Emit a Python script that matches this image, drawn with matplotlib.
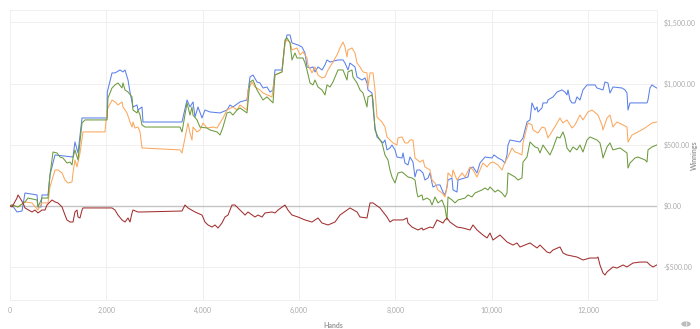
import matplotlib
matplotlib.use("Agg")
import matplotlib.pyplot as plt
from matplotlib.ticker import FuncFormatter
from matplotlib.patches import Circle

plt.rcParams['font.family'] = ['Lato', 'DejaVu Sans']

blue_x = [0, 42, 145, 249, 311, 561, 581, 644, 664, 789, 830, 934, 1308, 1349, 1412, 1495, 2014, 2020, 2118, 2180,
          2284, 2346, 2387, 2450, 2491, 2553, 2637, 2657, 2740, 2761, 3425, 3571, 3675, 3737, 3799, 3841, 3903, 3986,
          4048, 4152, 4360, 4505, 4567, 4629, 4775, 4920, 4982, 5045, 5128, 5190, 5252, 5335, 5398, 5460, 5501, 5647,
          5709, 5751, 5813, 5854, 5979, 6062, 6124, 6166, 6228, 6290, 6332, 6394, 6477, 6539, 6581, 6643, 6809, 6913,
          6955, 7017, 7058, 7162, 7204, 7308, 7370, 7411, 7432, 7515, 7536, 7577, 7619, 7681, 7743, 7785, 7827, 7889,
          7930, 7993, 8034, 8138, 8159, 8200, 8262, 8304, 8366, 8408, 8449, 8512, 8574, 8615, 8678, 8719, 8761, 8781,
          8865, 8927, 8989, 9031, 9072, 9093, 9176, 9197, 9280, 9300, 9446, 9508, 9550, 9612, 9695, 9757, 9861, 10006,
          10048, 10131, 10214, 10276, 10318, 10338, 10380, 10588, 10650, 10733, 10795, 10837, 10899, 10941, 10961,
          11044, 11065, 11148, 11169, 11273, 11356, 11460, 11522, 11563, 11584, 11626, 11667, 11729, 11771, 11833,
          11895, 11979, 12145, 12186, 12311, 12352, 12414, 12456, 12518, 12705, 12767, 12809, 12830, 12871, 13120,
          13224, 13245, 13286, 13328, 13390, 13425]
blue_y = [0, 8, -49, -41, 106, 90, -8, -8, 90, 90, 253, 417, 400, 523, 433, 719, 719, 931, 1087, 1087,
          1111, 1095, 1111, 1029, 931, 809, 825, 784, 809, 686, 686, 686, 866, 809, 850, 727, 809, 719,
          784, 768, 760, 784, 825, 809, 850, 866, 1054, 1070, 1013, 1005, 964, 972, 931, 948, 1111, 1111,
          1332, 1397, 1397, 1332, 1315, 1299, 1250, 1136, 1127, 1136, 1095, 1136, 1111, 1152, 1193, 1176, 1193, 1193,
          1168, 1111, 1168, 1136, 1054, 1029, 1046, 1005, 948, 923, 809, 645, 564, 539, 515, 539, 458, 474,
          498, 458, 400, 392, 433, 351, 335, 400, 359, 237, 294, 294, 270, 212, 229, 270, 188, 155,
          172, 172, 114, 90, 155, 212, 229, 131, 114, 212, 229, 237, 310, 319, 270, 351, 400, 392,
          417, 392, 376, 351, 417, 498, 539, 523, 556, 686, 703, 842, 784, 809, 768,
          801, 842, 842, 866, 891, 931, 948, 931, 907, 948, 866, 842, 842, 891, 866,
          948, 989, 989, 964, 948, 1013, 1005, 923, 972, 964, 948, 923, 784, 842, 842,
          842, 866, 964, 989, 972, 964]

orange_x = [0, 42, 166, 311, 457, 581, 664, 789, 830, 872, 934, 996, 1080, 1142, 1204, 1287, 1308, 1349, 1391, 1412,
            1453, 1515, 1972, 2014, 2034, 2118, 2180, 2242, 2325, 2346, 2429, 2491, 2533, 2553, 2595, 2657, 2699, 2740,
            3529, 3571, 3591, 3675, 3695, 3737, 3778, 3799, 3882, 3944, 4007, 4090, 4214, 4297, 4360, 4422, 4505, 4629,
            4713, 4775, 4920, 4941, 5024, 5086, 5190, 5252, 5439, 5501, 5647, 5709, 5751, 5813, 5854, 5958, 6020, 6083,
            6166, 6186, 6270, 6332, 6394, 6477, 6539, 6602, 6705, 6788, 6851, 6913, 6955, 6996, 7017, 7100, 7162, 7204,
            7266, 7328, 7411, 7432, 7474, 7536, 7577, 7619, 7723, 7785, 7827, 7951, 8034, 8055, 8138, 8200, 8262, 8304,
            8366, 8408, 8512, 8574, 8615, 8719, 8761, 8823, 8885, 8968, 9031, 9072, 9093, 9176, 9197, 9280, 9384, 9446,
            9550, 9612, 9695, 9757, 9819, 9903, 9965, 10027, 10131, 10214, 10276, 10338, 10422, 10484, 10546, 10629,
            10650, 10733, 10754, 10837, 10858, 10961, 11044, 11107, 11169, 11273, 11356, 11418, 11480, 11563, 11667,
            11729, 11833, 11895, 11999, 12082, 12207, 12290, 12311, 12394, 12456, 12518, 12601, 12726, 12809, 12830,
            12913, 13037, 13183, 13328, 13425]
orange_y = [0, 8, -8, 33, 25, -33, 25, 25, 155, 212, 294, 294, 270, 212, 188, 196, 270, 376, 319, 359,
            433, 605, 605, 784, 801, 866, 850, 825, 850, 809, 760, 686, 645, 686, 637, 645, 605, 474,
            458, 433, 474, 637, 678, 596, 539, 645, 605, 621, 678, 637, 645, 637, 678, 719, 784, 809,
            784, 825, 784, 948, 1013, 972, 948, 923, 891, 1070, 1095, 1332, 1356, 1340, 1275, 1291, 1234, 1258,
            1209, 1152, 1087, 1136, 1070, 1046, 1054, 1111, 1176, 1234, 1291, 1340, 1299, 1217, 1275, 1291, 1250, 1168,
            1136, 1095, 1087, 972, 1087, 1087, 948, 727, 686, 645, 564, 515, 498, 556, 564, 515, 515, 539,
            539, 392, 359, 376, 319, 294, 212, 188, 131, 106, 74, 155, 270, 237, 294, 212, 270, 237,
            319, 294, 237, 294, 351, 319, 351, 359, 335, 294, 359, 400, 474, 441, 433, 417,
            515, 645, 678, 662, 621, 596, 645, 637, 556, 621, 678, 719, 678, 703, 637,
            662, 743, 703, 768, 784, 743, 662, 621, 719, 743, 645, 686, 662, 645, 523,
            580, 605, 637, 678, 686]

green_x = [0, 42, 166, 311, 374, 561, 581, 664, 789, 830, 893, 976, 1038, 1100, 1183, 1246, 1287, 1308, 1349, 1412,
           1495, 1557, 2014, 2034, 2118, 2180, 2242, 2325, 2346, 2387, 2450, 2533, 2553, 2637, 2657, 2699, 2740, 2803,
           3529, 3571, 3675, 3695, 3737, 3778, 3799, 3882, 3944, 4090, 4152, 4297, 4360, 4422, 4505, 4567, 4629, 4713,
           4775, 4920, 4982, 5045, 5128, 5190, 5252, 5335, 5398, 5460, 5501, 5647, 5709, 5751, 5813, 5854, 5917, 5958,
           6083, 6124, 6166, 6228, 6290, 6332, 6394, 6477, 6539, 6581, 6643, 6705, 6809, 6913, 6996, 7017, 7100, 7120,
           7204, 7266, 7328, 7411, 7432, 7515, 7536, 7577, 7640, 7723, 7785, 7847, 7889, 7930, 7993, 8055, 8138, 8262,
           8345, 8408, 8449, 8470, 8553, 8574, 8657, 8719, 8761, 8823, 8885, 8968, 9031, 9072, 9093, 9176, 9238, 9300,
           9446, 9508, 9591, 9653, 9799, 9861, 9923, 9965, 10069, 10131, 10214, 10276, 10318, 10338, 10484, 10546,
           10629, 10650, 10733, 10795, 10899, 10961, 11003, 11065, 11169, 11210, 11273, 11356, 11418, 11480, 11522,
           11563, 11626, 11688, 11771, 11833, 11895, 11979, 12041, 12186, 12248, 12290, 12311, 12394, 12456, 12518,
           12664, 12809, 12830, 12871, 12975, 13037, 13183, 13224, 13245, 13328, 13425]
green_y = [0, 8, -8, 33, 65, 49, -8, 65, 65, 253, 441, 433, 400, 392, 351, 359, 335, 392, 458, 376,
           678, 703, 703, 882, 964, 989, 1005, 964, 1005, 948, 931, 891, 784, 760, 784, 743, 662, 645,
           645, 605, 842, 809, 743, 809, 743, 703, 645, 637, 621, 605, 580, 645, 760, 768, 743, 784,
           801, 760, 1013, 1029, 948, 907, 866, 891, 866, 842, 1070, 1095, 1356, 1373, 1332, 1193, 1250, 1209,
           1209, 1168, 1111, 1005, 989, 1029, 972, 948, 907, 989, 972, 1013, 1111, 1111, 1029, 1095, 1111, 1054,
           1005, 948, 923, 809, 891, 907, 866, 621, 564, 515, 417, 376, 294, 237, 188, 270, 278, 237,
           229, 212, 106, 74, 90, 49, 65, 49, 8, 74, 25, 49, -16, -114, 74, 49, 25, 49,
           65, 90, 74, 106, 131, 147, 131, 155, 114, 131, 106, 74, 106, 270, 237, 212,
           229, 359, 400, 523, 482, 474, 433, 498, 441, 417, 474, 564, 556, 605, 556,
           474, 441, 482, 458, 498, 441, 539, 564, 539, 515, 441, 392, 482, 515, 458,
           474, 433, 310, 351, 392, 400, 376, 359, 458, 482, 498]

red_x = [0, 42, 145, 166, 208, 270, 311, 457, 519, 581, 664, 727, 768, 872, 934, 996, 1080, 1142, 1183, 1246,
         1308, 1349, 1391, 1412, 1453, 1495, 1515, 2118, 2180, 2242, 2325, 2387, 2450, 2491, 2533, 2553, 2657, 2740,
         3571, 3633, 3695, 3841, 3986, 4048, 4110, 4194, 4256, 4318, 4401, 4463, 4526, 4609, 4671, 4733, 4816, 4879,
         4941, 5086, 5148, 5232, 5294, 5439, 5501, 5564, 5709, 5771, 5854, 5979, 6124, 6270, 6394, 6477, 6602, 6747,
         6851, 6996, 7058, 7204, 7266, 7411, 7474, 7536, 7681, 7827, 7889, 7951, 8159, 8242, 8262, 8345, 8470, 8553,
         8574, 8719, 8781, 8865, 8989, 9031, 9072, 9134, 9280, 9404, 9550, 9612, 9695, 9819, 9903, 9965, 10027,
         10172, 10318, 10442, 10525, 10588, 10795, 10941, 11003, 11148, 11210, 11273, 11418, 11480, 11563, 11771,
         11895, 12041, 12186, 12207, 12248, 12311, 12352, 12394, 12518, 12601, 12726, 12809, 12933, 13079, 13224,
         13286, 13349, 13425]
red_y = [0, -8, 65, 90, 65, 25, -16, -49, -33, -57, -33, -33, 8, 49, 33, 25, -8, -74, -114, -131,
         -131, -49, -33, -90, -98, -33, -16, -16, -33, -74, -114, -131, -98, -131, -57, -33, -49, -49,
         -41, 8, -16, -49, -74, -131, -155, -172, -155, -180, -139, -90, -74, 8, 8, -16, -49, -74,
         -49, -90, -74, -90, -57, -49, -57, -33, 8, -33, -74, -90, -114, -131, -98, -139, -155, -131,
         -74, -33, -16, -49, -90, -98, 25, 25, -16, -90, -131, -114, -114, -98, -139, -172, -196, -180,
         -196, -172, -180, -114, -139, -114, -98, -131, -172, -180, -196, -155, -196, -237, -261, -221, -278,
         -237, -294, -319, -302, -335, -302, -343, -319, -376, -384, -359, -335, -384, -400, -417,
         -441, -425, -425, -417, -482, -547, -564, -539, -498, -507, -482, -498, -466, -458, -458,
         -482, -498, -482]

x_ticks = [0, 2000, 4000, 6000, 8000, 10000, 12000]
y_ticks = [-500, 0, 500, 1000, 1500]

fig = plt.figure(figsize=(7.0, 3.29), dpi=100)
ax = fig.add_axes([10/700, 29/329, 647/700, 290/329])

ax.plot(blue_x, blue_y, color='#5a80ea', lw=0.75, zorder=3)
ax.plot(orange_x, orange_y, color='#fba85e', lw=0.75, zorder=3)
ax.plot(green_x, green_y, color='#6d9a3d', lw=0.75, zorder=4)
ax.plot(red_x, red_y, color='#a12f2f', lw=0.75, zorder=4)
ax.axhline(0, color='#c4c4c4', lw=1.0, zorder=2)

ax.set_xlim(0, 13432)
ax.set_ylim(-768, 1601)
ax.set_xticks(x_ticks)
ax.set_yticks(y_ticks)
ax.grid(True, color='#efefef', lw=0.7, zorder=0)
for s in ax.spines.values():
    s.set_color('#f0f0f0')
    s.set_linewidth(0.7)
ax.yaxis.tick_right()
ax.yaxis.set_label_position('right')
ax.tick_params(axis='both', length=0, labelsize=5, labelcolor='#aaaaaa')
ax.tick_params(axis='x', pad=5)
ax.tick_params(axis='y', pad=5)
ax.xaxis.set_major_formatter(FuncFormatter(lambda v, p: f"{int(v):,}"))
ax.yaxis.set_major_formatter(FuncFormatter(lambda v, p: ("-" if v < 0 else "") + f"${abs(v):,.2f}"))
ax.set_xlabel('Hands', fontsize=5, color='#999999', fontweight='bold', labelpad=6)
ax.set_ylabel('Winnings', fontsize=5, color='#999999', fontweight='bold', rotation=90)
ax.yaxis.set_label_coords(1.053, 0.5)

fig.patches.append(Circle((686/700, 5/329), 4/700, transform=fig.transFigure, color='#bbbbbb'))
fig.text(686/700, 5/329, 'i', fontsize=4, color='white', ha='center', va='center', fontweight='bold')

fig.savefig('out.png', dpi=100)
